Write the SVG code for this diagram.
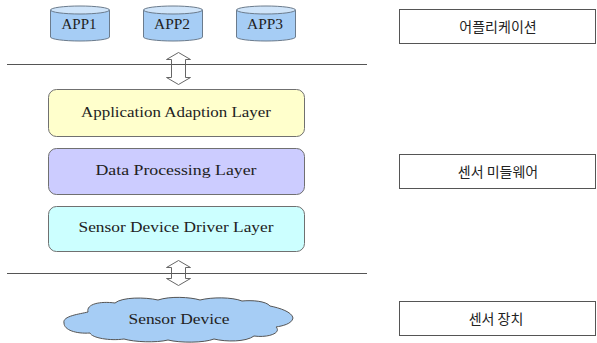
<svg xmlns="http://www.w3.org/2000/svg" width="597" height="343" viewBox="0 0 597 343">
  <style>
    .lbl { font-family: "Liberation Serif", "Noto Sans CJK KR", serif; font-size: 14px; fill: #222; text-anchor: middle; dominant-baseline: central; }
    .app { font-size: 15px; }
    .kr { font-family: "Noto Sans CJK KR", "Liberation Sans", sans-serif; font-size: 14px; fill: #222; text-anchor: middle; dominant-baseline: central; }
    .cyl { fill: #a6cdf5; stroke: #6b7b8c; stroke-width: 1; }
    .cyltop { fill: #cfe4f9; stroke: #6b7b8c; stroke-width: 1; }
    .layer { stroke: #707070; stroke-width: 1; }
    .side { fill: #fff; stroke: #555; stroke-width: 1; }
    .rule { stroke: #555; stroke-width: 1; fill: none; }
    .dbl { fill: #fff; stroke: #666; stroke-width: 1; }
  </style>

  <!-- application databases -->
  <g id="app1">
    <path class="cyl" d="M50.5,10 V37 A29.5,4 0 0 0 109.5,37 V10 Z"/>
    <ellipse class="cyltop" cx="80" cy="10" rx="29.5" ry="4"/>
    <text class="lbl app" x="79" y="24" textLength="35" lengthAdjust="spacingAndGlyphs">APP1</text>
  </g>
  <g id="app2">
    <path class="cyl" d="M143.5,10 V37 A29.5,4 0 0 0 202.5,37 V10 Z"/>
    <ellipse class="cyltop" cx="173" cy="10" rx="29.5" ry="4"/>
    <text class="lbl app" x="172" y="24" textLength="36" lengthAdjust="spacingAndGlyphs">APP2</text>
  </g>
  <g id="app3">
    <path class="cyl" d="M236.5,10 V37 A29.5,4 0 0 0 295.5,37 V10 Z"/>
    <ellipse class="cyltop" cx="266" cy="10" rx="29.5" ry="4"/>
    <text class="lbl app" x="265" y="24" textLength="36" lengthAdjust="spacingAndGlyphs">APP3</text>
  </g>

  <!-- middleware layers -->
  <g id="adaption-layer">
    <rect class="layer" x="48.5" y="89.5" width="256" height="47" rx="8" fill="#ffffcc"/>
    <text class="lbl" x="176" y="112" textLength="190" lengthAdjust="spacingAndGlyphs">Application Adaption Layer</text>
  </g>
  <g id="processing-layer">
    <rect class="layer" x="48.5" y="148.5" width="256" height="46" rx="8" fill="#ccccff"/>
    <text class="lbl" x="176" y="170" textLength="161" lengthAdjust="spacingAndGlyphs">Data Processing Layer</text>
  </g>
  <g id="driver-layer">
    <rect class="layer" x="48.5" y="206.5" width="256" height="45" rx="8" fill="#ccffff"/>
    <text class="lbl" x="176" y="227" textLength="195" lengthAdjust="spacingAndGlyphs">Sensor Device Driver Layer</text>
  </g>

  <!-- sensor hardware -->
  <g id="sensor-device">
    <path d="M64,323 C62,316 80,314 88,312 C86,304 100,301 115,303 C122,297 145,297 158,300 C170,296 190,297 200,300 C212,297 232,297 242,301 C252,300 266,301 270,306 C280,308 292,312 293,318 C292,324 282,326 276,327 C282,333 268,338 254,336 C246,342 226,342 214,339 C204,343 180,343 168,340 C156,343 134,342 124,339 C110,341 92,338 90,333 C76,334 64,330 64,323 Z" fill="#a6cdf5" stroke="#555" stroke-width="1"/>
    <text class="lbl" x="179" y="319" textLength="101" lengthAdjust="spacingAndGlyphs">Sensor Device</text>
  </g>

  <!-- tier captions -->
  <g id="tier-app">
    <rect class="side" x="399.5" y="9.5" width="196" height="34"/>
    <text class="kr" x="498" y="26">어플리케이션</text>
  </g>
  <g id="tier-middleware">
    <rect class="side" x="399.5" y="154.5" width="196" height="34"/>
    <text class="kr" x="498" y="171">센서 미들웨어</text>
  </g>
  <g id="tier-device">
    <rect class="side" x="399.5" y="301.5" width="196" height="34"/>
    <text class="kr" x="496" y="318">센서 장치</text>
  </g>

  <!-- separators and interface arrows -->
  <g id="connectors">
    <line class="rule" x1="7" y1="64.5" x2="367" y2="64.5"/>
    <line class="rule" x1="7" y1="273.5" x2="367" y2="273.5"/>
    <path class="dbl" d="M178.5,52.5 L190.5,59.5 H185.5 V77.5 H190.5 L178.5,84.5 L166.5,77.5 H171.5 V59.5 H166.5 Z"/>
    <path class="dbl" d="M178.5,260.5 L190.5,267.5 H185.5 V278.5 H190.5 L178.5,285.5 L166.5,278.5 H171.5 V267.5 H166.5 Z"/>
    <line class="rule" x1="171.5" y1="64.5" x2="185.5" y2="64.5"/>
    <line class="rule" x1="171.5" y1="273.5" x2="185.5" y2="273.5"/>
  </g>
</svg>
